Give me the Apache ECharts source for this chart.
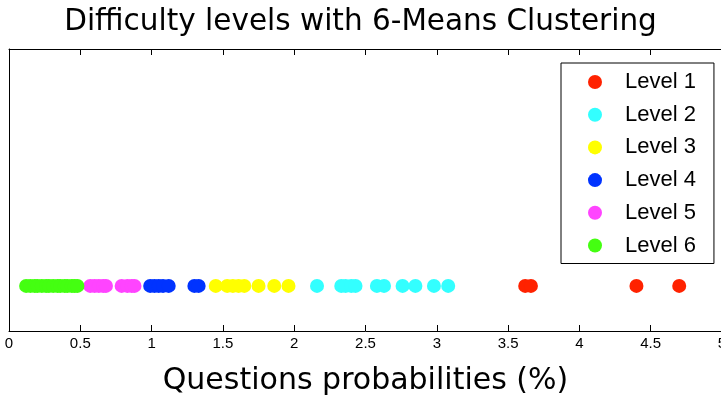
<!DOCTYPE html>
<html><head><meta charset="utf-8">
<script src="https://cdn.jsdelivr.net/npm/echarts@6/dist/echarts.min.js"></script>
<style>html,body{margin:0;padding:0;background:#fff}#c{width:721px;height:397px}</style>
</head><body><div id="c"></div>
<script>
const seriesNames = ['Level 1','Level 2','Level 3','Level 4','Level 5','Level 6'];
const colors = ['#ff2200','#33ffff','#ffff00','#0033ff','#ff44ff','#44ff11'];
const level1 = [3.62, 3.66, 4.40, 4.70];
const level2 = [2.16, 2.33, 2.36, 2.40, 2.43, 2.58, 2.63, 2.76, 2.85, 2.98, 3.08];
const level3 = [1.45, 1.53, 1.57, 1.61, 1.65, 1.75, 1.86, 1.96];
const level4 = [0.99, 1.02, 1.05, 1.08, 1.12, 1.30, 1.33];
const level5 = [0.57, 0.60, 0.63, 0.66, 0.68, 0.79, 0.83, 0.86, 0.88];
const level6 = [0.12, 0.15, 0.18, 0.20, 0.23, 0.26, 0.28, 0.31, 0.34, 0.36, 0.39, 0.41, 0.44, 0.46, 0.48];
const yLevel = 0.16;
const xTicks = [0, 0.5, 1, 1.5, 2, 2.5, 3, 3.5, 4, 4.5, 5];

const allData = [level1, level2, level3, level4, level5, level6];
const chart = echarts.init(document.getElementById('c'));
const font = '"Liberation Sans", Arial, sans-serif';
const wideFont = '"DejaVu Sans", "Liberation Sans", sans-serif';
const axisCommon = {
  type: 'value', min: 0, max: 5, interval: 0.5,
  axisLine: {show: true, onZero: false, lineStyle: {color: '#000', width: 1}},
  axisTick: {show: true, inside: true, length: 6, lineStyle: {color: '#000'}},
  splitLine: {show: false}
};
chart.setOption({
  animation: false,
  backgroundColor: '#fff',
  title: {text: 'Difficulty levels with 6-Means Clustering', left: 'center', top: 2,
    textStyle: {fontFamily: wideFont, fontSize: 29.5, fontWeight: 'normal', color: '#000'}},
  grid: {left: 9, right: -1, top: 49, bottom: 66, outerBoundsMode: 'none', containLabel: false},
  legend: {
    orient: 'vertical', left: 561, top: 63,
    data: seriesNames, icon: 'circle', itemWidth: 14, itemHeight: 14, itemGap: 10.7,
    padding: [8, 18, 7, 27],
    borderColor: '#000', borderWidth: 1, backgroundColor: '#fff',
    textStyle: {fontFamily: font, fontSize: 22, color: '#000', padding: [0, 0, 0, 18]}
  },
  xAxis: [
    Object.assign({}, axisCommon, {position: 'bottom',
      name: 'Questions probabilities (%)', nameLocation: 'middle', nameGap: 35,
      nameTextStyle: {fontFamily: wideFont, fontSize: 30, color: '#000'},
      axisLabel: {show: true, fontFamily: font, fontSize: 15, color: '#000', margin: 5,
        hideOverlap: false, showMaxLabel: true, showMinLabel: true,
        formatter: v => xTicks.indexOf(v) >= 0 ? String(v) : ''}}),
    Object.assign({}, axisCommon, {position: 'top', axisLabel: {show: false}})
  ],
  yAxis: [
    {type: 'value', min: 0, max: 1, position: 'left',
     axisLine: {show: true, onZero: false, lineStyle: {color: '#000'}},
     axisTick: {show: false}, axisLabel: {show: false}, splitLine: {show: false}},
    {type: 'value', min: 0, max: 1, position: 'right',
     axisLine: {show: true, onZero: false, lineStyle: {color: '#000'}},
     axisTick: {show: false}, axisLabel: {show: false}, splitLine: {show: false}}
  ],
  series: seriesNames.map((n, i) => ({
    name: n, type: 'scatter', symbol: 'circle', symbolSize: 14,
    itemStyle: {color: colors[i], opacity: 1},
    data: allData[i].map(x => [x, yLevel])
  }))
});
</script></body></html>
